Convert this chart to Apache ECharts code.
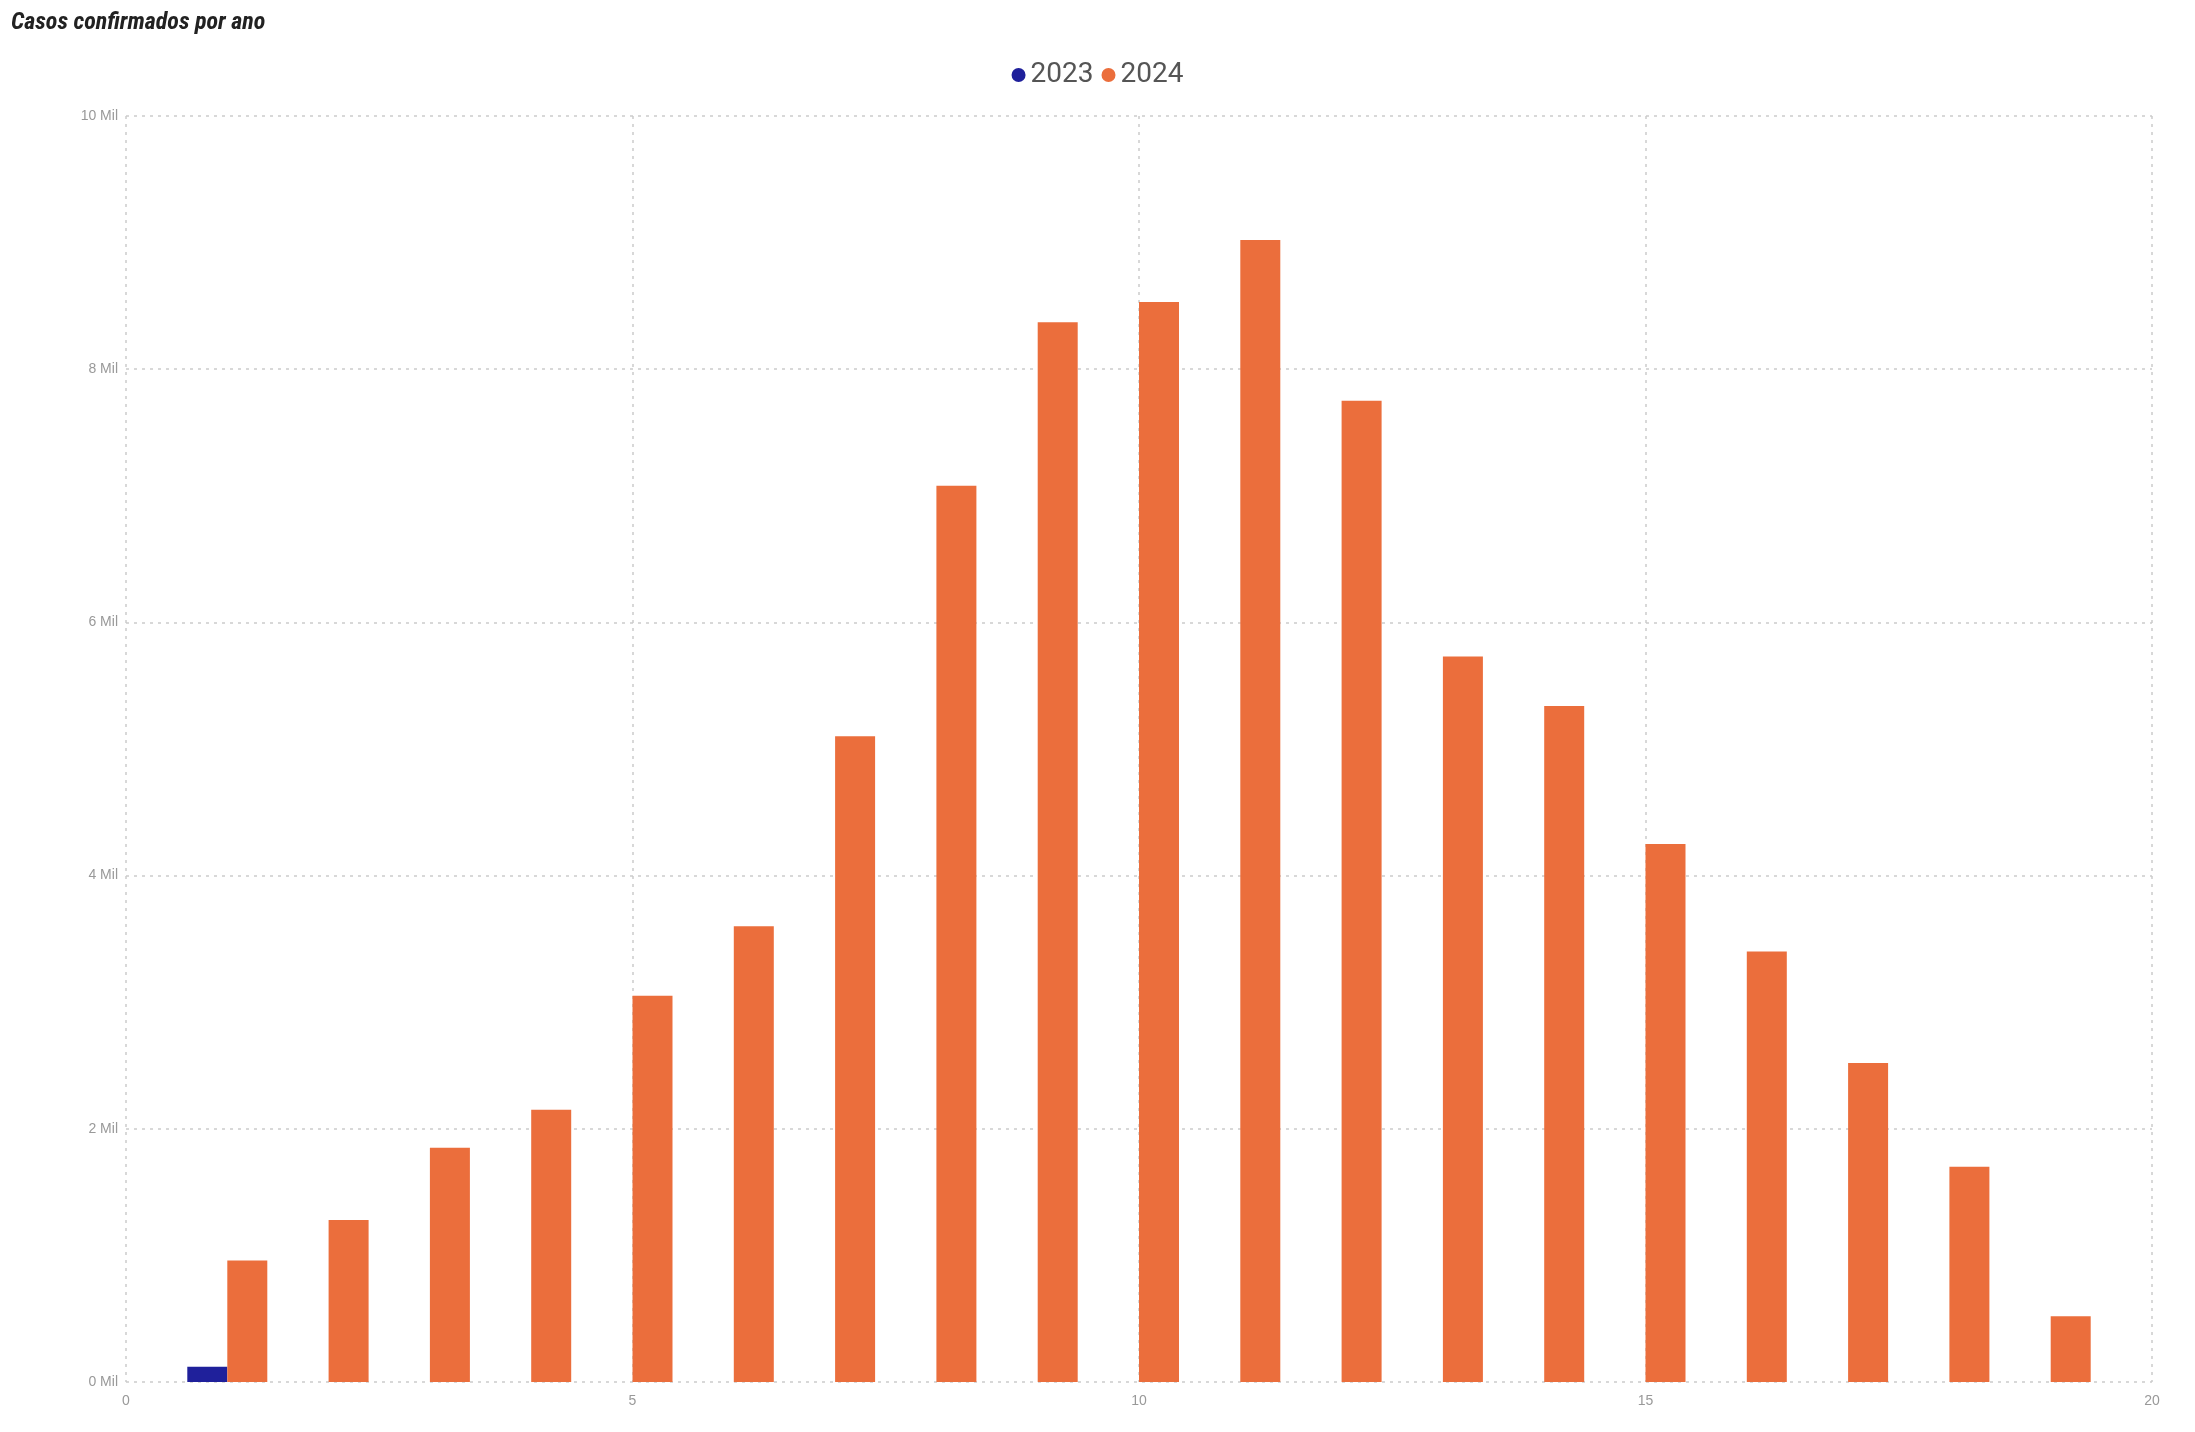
<!DOCTYPE html><html><head><meta charset="utf-8">
<script src="https://cdn.jsdelivr.net/npm/echarts@6/dist/echarts.min.js"></script>
<style>html,body{margin:0;background:#fff}#c{width:2195px;height:1432px}</style></head><body><div id="c"></div>
<script>
const weeks = [1,2,3,4,5,6,7,8,9,10,11,12,13,14,15,16,17,18,19];
const cases2023 = [0.12,null,null,null,null,null,null,null,null,null,null,null,null,null,null,null,null,null,null];
const cases2024 = [0.96,1.28,1.85,2.15,3.05,3.6,5.1,7.08,8.37,8.53,9.02,7.75,5.73,5.34,4.25,3.4,2.52,1.7,0.52];
const yTicks = [0,2,4,6,8,10];
const ch = echarts.init(document.getElementById('c'));
const grid = {color:'#ccc',type:[3,5],width:1.5};
ch.setOption({
  animation:false,
  title:{text:'Casos confirmados por ano',left:6,top:6,textStyle:{fontFamily:'Roboto Condensed, Liberation Sans Narrow, Roboto',fontStyle:'italic',fontWeight:'bold',fontSize:24,color:'#222'}},
  legend:{top:56,left:'center',itemWidth:14,itemHeight:14,itemGap:8,icon:'circle',textStyle:{fontSize:28,color:'#555',fontFamily:'Liberation Sans Narrow, Roboto'},data:['2023','2024']},
  grid:{left:126,right:43,top:116,bottom:50},
  xAxis:{type:'value',min:0,max:20,interval:5,axisLine:{show:false},axisTick:{show:false},
    splitLine:{show:true,lineStyle:grid},axisLabel:{color:'#999',fontSize:14,margin:12}},
  yAxis:{type:'value',min:0,max:10,interval:2,axisLine:{show:false},axisTick:{show:false},
    splitLine:{show:true,lineStyle:grid},axisLabel:{color:'#999',fontSize:14,formatter:v=>v+' Mil'}},
  series:[
    {name:'2023',type:'bar',barWidth:40,barGap:'0%',itemStyle:{color:'#1F209B'},data:weeks.map((w,i)=>[w,cases2023[i]])},
    {name:'2024',type:'bar',barWidth:40,barGap:'0%',itemStyle:{color:'#EB6E3C'},data:weeks.map((w,i)=>[w,cases2024[i]])}
  ]
});
</script></body></html>
